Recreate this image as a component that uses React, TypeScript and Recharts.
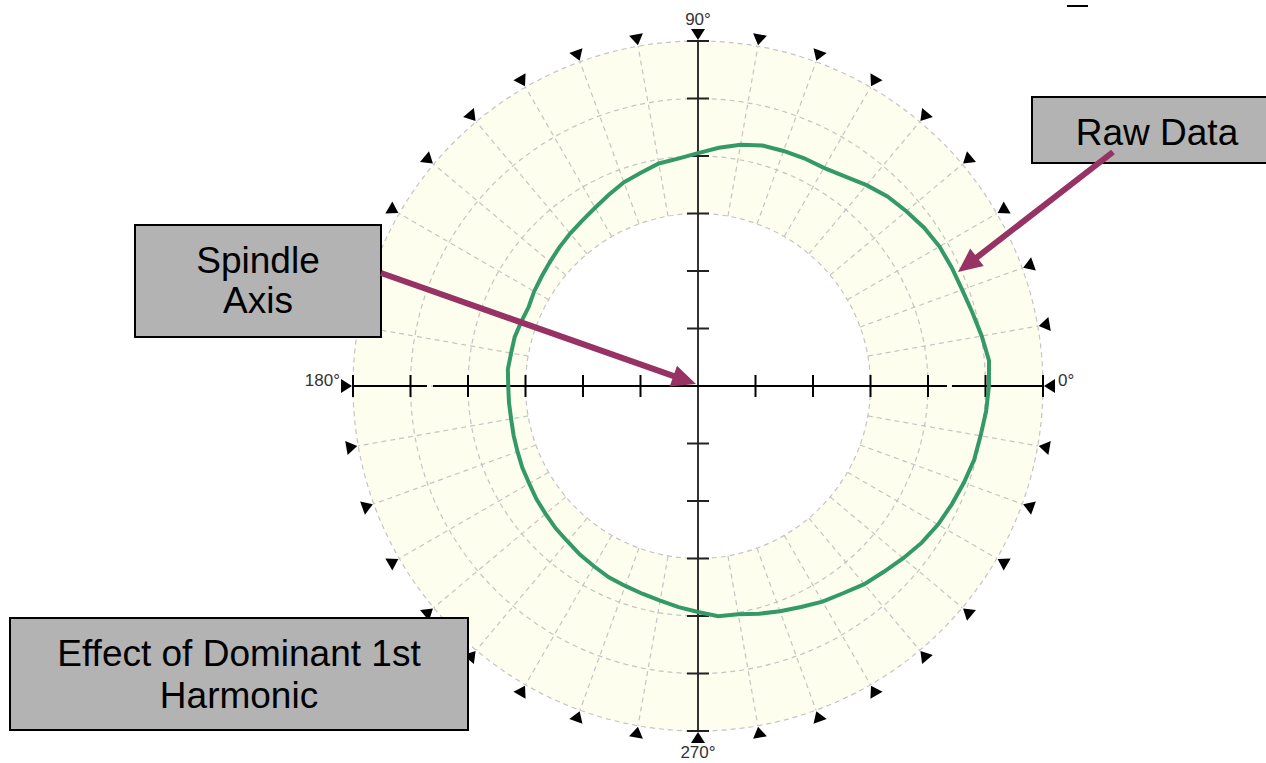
import React from 'react';
import {
  RadarChart,
  Radar,
  PolarGrid,
  PolarAngleAxis,
  PolarRadiusAxis,
  Customized,
} from 'recharts';

// angle of each sample, degrees, counter-clockwise from 0° (right)
const angles = [
  0, 5, 10, 15, 20, 25, 30, 35, 40, 45, 50, 55, 60, 65, 70, 75, 80, 85,
  90, 95, 100, 105, 110, 115, 120, 125, 130, 135, 140, 145, 150, 155, 160, 165, 170, 175,
  180, 185, 190, 195, 200, 205, 210, 215, 220, 225, 230, 235, 240, 245, 250, 255, 260, 265,
  270, 275, 280, 285, 290, 295, 300, 305, 310, 315, 320, 325, 330, 335, 340, 345, 350, 355,
];

const rawData = [
  5.08, 5.01, 4.94, 4.89, 4.87, 4.85, 4.8, 4.73, 4.66, 4.56, 4.45, 4.38, 4.37, 4.35, 4.33, 4.26, 4.16, 4.05,
  3.97, 3.93, 3.84, 3.77, 3.67, 3.58, 3.51, 3.46, 3.41, 3.36, 3.32, 3.29, 3.25, 3.27, 3.3, 3.3, 3.32, 3.3,
  3.3, 3.3, 3.32, 3.34, 3.37, 3.39, 3.43, 3.46, 3.5, 3.53, 3.58, 3.62, 3.67, 3.7, 3.74, 3.79, 3.86, 3.93,
  4.02, 4.03, 4.1, 4.17, 4.24, 4.33, 4.4, 4.5, 4.57, 4.66, 4.75, 4.82, 4.87, 4.92, 4.97, 4.99, 5.03, 5.06,
];

const band = [3, 6]; // shaded annulus, inner and outer
const gridRings = [3, 4, 5, 6];
const gridAngles = [
  0, 10, 20, 30, 40, 50, 60, 70, 80, 90, 100, 110, 120, 130, 140, 150, 160, 170,
  180, 190, 200, 210, 220, 230, 240, 250, 260, 270, 280, 290, 300, 310, 320, 330, 340, 350,
];
const axisTicks = [1, 2, 3, 4, 5, 6];
const angleLabels: Record<number, string> = { 0: '0°', 90: '90°', 180: '180°', 270: '270°' };

const W = 1266;
const H = 763;
const CX = 698;
const CY = 386;
const R_OUT = 345;
const UNIT = R_OUT / 6;
const R_IN = band[0] * UNIT;

const data = angles.map((a, i) => ({
  angle: a,
  raw: rawData[i],
  outer: band[1],
  inner: band[0],
}));

const FONT = '"Liberation Sans", Arial, sans-serif';

const AngleTick = (props: any) => {
  const a = Number(props.payload?.value);
  if (a % 10 !== 0) return <g />;
  const rad = (a * Math.PI) / 180;
  const ux = Math.cos(rad);
  const uy = -Math.sin(rad);
  const vx = Math.sin(rad);
  const vy = Math.cos(rad);
  const p = (r: number, o: number) =>
    `${CX + r * ux + o * vx},${CY + r * uy + o * vy}`;
  const tri = [p(R_OUT + 1, 0), p(R_OUT + 12, 7), p(R_OUT + 12, -7)].join(' ');
  let label = null;
  if (angleLabels[a]) {
    let x = CX;
    let y = CY;
    let anchor: 'start' | 'middle' | 'end' = 'middle';
    if (a === 0) { x = CX + 360; anchor = 'start'; }
    if (a === 180) { x = CX - 358; anchor = 'end'; }
    if (a === 90) { y = CY - 361; }
    if (a === 270) { y = CY + 372; }
    label = (
      <text x={x} y={y} textAnchor={anchor} fontSize={17} fill="#333" fontFamily={FONT}>
        {angleLabels[a]}
      </text>
    );
  }
  return (
    <g>
      <polygon points={tri} fill="#000" />
      {label}
    </g>
  );
};

const Crosshair = () => {
  const ticks = axisTicks.flatMap((t) => [t, -t]);
  return (
    <g>
      <line x1={CX} y1={CY - R_OUT} x2={CX} y2={CY + R_OUT} stroke="#333" strokeWidth={2} />
      <line x1={CX - R_OUT} y1={CY} x2={CX - 271} y2={CY} stroke="#000" strokeWidth={2} />
      <line x1={CX - 265} y1={CY} x2={CX + 249} y2={CY} stroke="#000" strokeWidth={2} />
      <line x1={CX + 254} y1={CY} x2={CX + R_OUT} y2={CY} stroke="#000" strokeWidth={2} />
      {ticks.map((t) => (
        <line key={'v' + t} x1={CX - 11} x2={CX + 11} y1={CY - t * UNIT} y2={CY - t * UNIT} stroke="#222" strokeWidth={2} />
      ))}
      {ticks.map((t) => (
        <line key={'h' + t} x1={CX + t * UNIT} x2={CX + t * UNIT} y1={CY - 11} y2={CY + 11} stroke="#000" strokeWidth={2} />
      ))}
    </g>
  );
};

const Arrow = ({ x1, y1, x2, y2 }: { x1: number; y1: number; x2: number; y2: number }) => {
  const dx = x2 - x1;
  const dy = y2 - y1;
  const len = Math.hypot(dx, dy);
  const ux = dx / len;
  const uy = dy / len;
  const hl = 24;
  const hw = 11;
  const bx = x2 - ux * hl;
  const by = y2 - uy * hl;
  const color = '#963264';
  return (
    <g>
      <line x1={x1} y1={y1} x2={bx + ux * 2} y2={by + uy * 2} stroke={color} strokeWidth={6} />
      <polygon
        points={`${x2},${y2} ${bx - uy * hw},${by + ux * hw} ${bx + uy * hw},${by - ux * hw}`}
        fill={color}
      />
    </g>
  );
};

const Box = ({ x, y, w, h, lines, ys }: { x: number; y: number; w: number; h: number; lines: string[]; ys: number[] }) => (
  <g>
    <rect x={x} y={y} width={w} height={h} fill="#b3b3b3" stroke="#000" strokeWidth={2} />
    {lines.map((l, i) => (
      <text key={i} x={x + w / 2} y={ys[i]} textAnchor="middle" fontSize={37} fill="#000" fontFamily={FONT}>
        {l}
      </text>
    ))}
  </g>
);

export default function App() {
  return (
    <div style={{ position: 'absolute', left: 0, top: 0, width: W, height: H, background: '#fff', overflow: 'hidden' }}>
      <RadarChart
        width={W}
        height={H}
        data={data}
        cx={CX}
        cy={CY}
        innerRadius={R_IN}
        outerRadius={R_OUT}
        startAngle={0}
        endAngle={360}
        margin={{ top: 0, right: 0, bottom: 0, left: 0 }}
      >
        <Radar dataKey="outer" stroke="none" fill="#fefeee" fillOpacity={1} dot={false} isAnimationActive={false} zIndex={-1000} />
        <Radar dataKey="inner" stroke="none" fill="#ffffff" fillOpacity={1} dot={false} isAnimationActive={false} zIndex={-900} />
        <PolarGrid
          gridType="circle"
          polarRadius={gridRings.map((v) => v * UNIT)}
          polarAngles={gridAngles}
          stroke="#c4c4c4"
          strokeDasharray="5 4"
          strokeWidth={1.2}
        />
        <PolarAngleAxis dataKey="angle" tick={AngleTick} tickLine={false} axisLine={false} />
        <PolarRadiusAxis type="number" domain={band} tick={false} axisLine={false} />
        <Customized component={<Crosshair />} />
        <Radar
          dataKey="raw"
          stroke="#339966"
          strokeWidth={4}
          fill="none"
          fillOpacity={0}
          dot={false}
          isAnimationActive={false}
        />
      </RadarChart>
      <svg width={W} height={H} style={{ position: 'absolute', left: 0, top: 0, pointerEvents: 'none' }}>
        <line x1={1067} y1={6} x2={1088} y2={6} stroke="#000" strokeWidth={2} />
        <Box x={1032} y={97} w={250} h={66} lines={['Raw Data']} ys={[145]} />
        <Box x={135} y={225} w={246} h={112} lines={['Spindle', 'Axis']} ys={[273, 313]} />
        <Box x={10} y={618} w={458} h={112} lines={['Effect of Dominant 1st', 'Harmonic']} ys={[666, 708]} />
        <Arrow x1={381} y1={273} x2={696} y2={384} />
        <Arrow x1={1113} y1={152} x2={958} y2={272} />
      </svg>
    </div>
  );
}
